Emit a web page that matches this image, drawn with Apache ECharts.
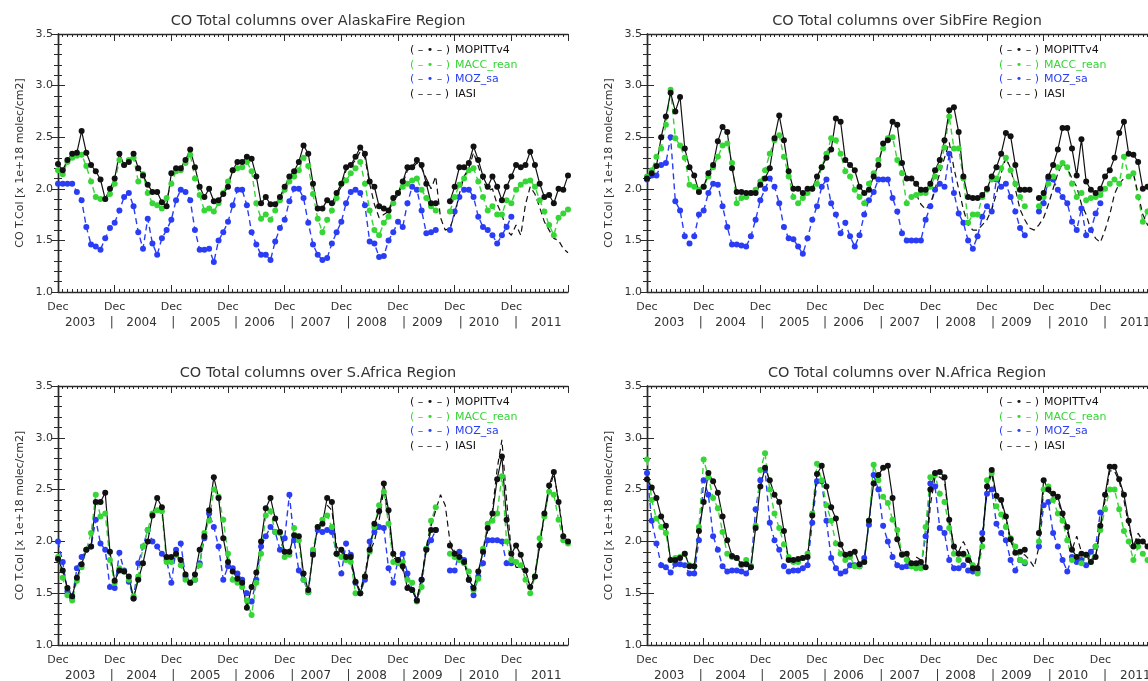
<!DOCTYPE html>
<html>
<head>
<meta charset="utf-8">
<script src="https://cdn.jsdelivr.net/npm/echarts@6/dist/echarts.min.js"></script>
<style>
  html, body { margin: 0; padding: 0; background: #ffffff; }
  #chart { width: 1148px; height: 681px; }
</style>
</head>
<body>
<div id="chart"></div>
<script>
// Monthly CO total columns (x 1e+18 molec/cm2), month index 0 = Dec 2003.
const monthCount = 108;               // Dec 2003 .. Dec 2012
const iasiStart = 57;                 // IASI record starts Sep 2008

// X-axis ticks / labels
const decTicks = [0, 12, 24, 36, 48, 60, 72, 84, 96];
const decTickMarks = [0, 12, 24, 36, 48, 60, 72, 84, 96, 108];
const yearLabelPos  = [4.7, 11.4, 17.7, 24.4, 31.2, 37.7, 42.7, 49.6, 54.6, 61.5, 66.4, 73.3, 78.2, 85.3, 90.2, 97.0, 103.4];
const yearLabelText = ['2003', '|', '2004', '|', '2005', '|', '2006', '|', '2007', '|', '2008', '|', '2009', '|', '2010', '|', '2011'];

const seriesNames = ['MOPITTv4', 'MACC_rean', 'MOZ_sa', 'IASI'];

// ---- AlaskaFire ----
const alaskaMopitt = [
  2.24,2.18,2.28,2.34,2.35,2.56,2.35,2.23,2.17,2.09,1.90,2.00,
  2.10,2.34,2.23,2.26,2.34,2.20,2.13,2.04,1.97,1.97,1.87,1.83,
  2.15,2.20,2.20,2.28,2.38,2.21,2.02,1.92,2.00,1.88,1.89,1.95,
  2.02,2.18,2.26,2.26,2.31,2.29,2.12,1.86,1.92,1.85,1.85,1.92,
  2.02,2.12,2.17,2.26,2.42,2.34,2.05,1.81,1.81,1.89,1.86,1.96,
  2.05,2.21,2.23,2.31,2.40,2.34,2.07,2.02,1.83,1.81,1.79,1.91,
  1.96,2.07,2.21,2.21,2.28,2.23,2.05,1.86,1.86,null,null,1.88,
  2.02,2.21,2.21,2.25,2.41,2.28,2.12,2.02,2.12,2.02,1.89,2.02,
  2.12,2.23,2.21,2.23,2.36,2.23,2.05,1.92,1.94,1.86,2.00,1.99,2.13];
const alaskaMacc = [
  2.18,2.14,2.26,2.30,2.32,2.33,2.22,2.07,1.92,1.90,1.90,1.95,
  2.05,2.28,2.23,2.28,2.30,2.07,2.14,1.96,1.86,1.84,1.81,1.91,
  2.05,2.17,2.18,2.25,2.33,2.10,1.94,1.79,1.81,1.78,1.86,1.96,
  2.07,2.18,2.20,2.21,2.26,2.17,1.86,1.71,1.75,1.70,1.79,1.89,
  1.99,2.07,2.12,2.18,2.30,2.22,1.95,1.71,1.58,1.70,1.79,1.91,
  2.05,2.08,2.15,2.20,2.26,2.05,1.79,1.60,1.55,1.67,1.73,1.86,
  1.96,2.02,2.05,2.08,2.10,1.99,1.91,1.83,1.79,null,null,1.78,
  1.92,2.04,2.10,2.18,2.20,2.07,1.92,1.79,1.83,1.75,1.75,1.89,
  1.86,1.99,2.04,2.07,2.08,2.02,1.89,1.78,1.65,1.55,1.72,1.76,1.80];
const alaskaMoz = [
  2.05,2.05,2.05,2.05,1.97,1.89,1.63,1.46,1.44,1.41,1.52,1.62,
  1.67,1.79,1.92,1.96,1.83,1.58,1.42,1.71,1.47,1.36,1.52,1.60,
  1.70,1.89,1.99,1.97,1.89,1.60,1.41,1.41,1.42,1.29,1.50,1.58,
  1.68,1.84,1.99,1.99,1.84,1.58,1.46,1.36,1.36,1.31,1.49,1.62,
  1.70,1.88,2.00,2.00,1.91,1.67,1.46,1.36,1.31,1.33,1.47,1.58,
  1.68,1.86,1.97,1.99,1.96,1.84,1.49,1.47,1.34,1.35,1.50,1.58,
  1.68,1.63,1.86,2.02,1.99,1.79,1.57,1.58,1.60,null,null,1.60,
  1.78,1.92,1.99,1.99,1.92,1.73,1.63,1.60,1.55,1.47,1.55,1.63,
  1.73];
const alaskaIasi = [
  1.88,1.85,1.94,2.02,2.18,2.22,2.28,2.36,2.30,2.05,1.85,1.72,1.75,1.78,1.88,1.94,
  2.05,2.18,2.20,2.25,2.20,2.10,2.00,2.12,1.72,1.60,1.62,1.75,1.95,2.12,2.20,2.35,
  2.22,2.08,1.98,2.00,1.85,1.75,1.60,1.55,1.65,1.55,1.85,2.02,1.95,1.82,1.68,1.60,
  1.52,1.50,1.42,1.38];

// ---- SibFire ----
const sibMopitt = [
  2.10,2.15,2.22,2.50,2.70,2.93,2.75,2.89,2.39,2.21,2.13,1.97,
  2.02,2.15,2.23,2.46,2.60,2.55,2.20,1.97,1.97,1.96,1.96,1.96,
  2.04,2.10,2.20,2.49,2.71,2.47,2.17,2.00,2.00,1.96,2.00,2.00,
  2.12,2.21,2.30,2.38,2.68,2.65,2.28,2.23,2.18,2.02,1.96,1.99,
  2.12,2.23,2.44,2.47,2.65,2.62,2.25,2.10,2.10,2.05,1.99,1.99,
  2.05,2.18,2.28,2.47,2.76,2.79,2.55,2.12,1.92,1.91,1.91,1.94,
  2.00,2.12,2.21,2.34,2.54,2.51,2.23,1.99,1.99,1.99,null,1.91,
  1.96,2.12,2.23,2.38,2.59,2.59,2.39,2.13,2.48,2.07,1.99,1.96,
  2.00,2.12,2.18,2.30,2.54,2.65,2.34,2.33,2.26,2.00,2.02,2.00,2.00];
const sibMacc = [
  2.12,2.18,2.31,2.39,2.62,2.96,2.49,2.42,2.30,2.04,2.02,1.99,
  2.02,2.12,2.21,2.31,2.42,2.44,2.25,1.86,1.91,1.92,1.96,1.99,
  2.07,2.18,2.34,2.47,2.52,2.31,2.12,1.92,1.86,1.91,1.96,2.00,
  2.05,2.21,2.34,2.49,2.47,2.34,2.17,2.12,1.99,1.92,1.86,2.05,
  2.15,2.28,2.39,2.49,2.50,2.28,2.15,1.86,1.92,1.94,1.96,1.96,
  2.02,2.12,2.21,2.40,2.70,2.39,2.39,2.10,1.67,1.75,1.75,1.92,
  1.99,2.09,2.10,2.20,2.30,2.18,2.05,1.92,1.83,null,null,1.83,
  1.92,2.05,2.12,2.21,2.25,2.21,2.05,1.92,1.96,1.89,1.91,1.92,
  1.94,2.00,2.05,2.09,2.05,2.31,2.12,2.15,1.92,1.68,1.78,1.80,1.82];
const sibMoz = [
  2.09,2.13,2.13,2.23,2.25,2.50,1.88,1.79,1.54,1.47,1.54,1.75,
  1.79,1.96,2.05,2.04,1.83,1.63,1.46,1.46,1.45,1.44,1.54,1.70,
  1.89,2.00,2.10,2.02,1.86,1.63,1.52,1.51,1.44,1.37,1.52,1.70,
  1.83,2.02,2.09,1.86,1.75,1.57,1.67,1.54,1.44,1.55,1.75,1.89,
  1.97,2.09,2.09,2.09,1.91,1.78,1.57,1.50,1.50,1.50,1.50,1.70,
  1.83,1.99,2.05,2.02,2.34,1.96,1.76,1.67,1.50,1.42,1.54,1.73,
  1.83,1.78,2.09,2.02,2.05,1.92,1.78,1.62,1.55,null,null,1.78,
  1.86,2.10,2.09,1.99,1.92,1.86,1.68,1.60,1.81,1.55,1.60,1.76,
  1.86];
const sibIasi = [
  1.95,1.85,1.80,1.85,2.00,2.15,2.30,2.45,2.20,2.00,1.80,1.65,1.60,1.60,1.65,1.70,
  1.80,1.95,2.15,2.30,2.20,2.00,1.80,1.70,1.62,1.60,1.65,1.72,1.85,2.00,2.15,2.25,
  2.20,2.10,2.02,1.85,1.75,1.60,1.52,1.48,1.60,1.75,1.95,2.05,2.10,2.10,2.15,1.95,
  1.75,1.65,1.60,1.58];

// ---- S.Africa ----
const safMopitt = [
  1.83,1.72,1.55,1.47,1.65,1.78,1.92,1.95,2.38,2.38,2.47,1.90,
  1.62,1.72,1.71,1.66,1.45,1.63,1.79,2.00,2.25,2.42,2.33,1.85,
  1.85,1.88,1.82,1.68,1.60,1.68,1.92,2.05,2.30,2.62,2.42,2.03,
  1.80,1.71,1.64,1.60,1.36,1.56,1.70,2.00,2.32,2.42,2.22,2.09,
  1.90,1.90,2.06,2.05,1.69,1.53,1.87,2.14,2.17,2.42,2.38,1.88,
  1.92,1.85,1.85,1.61,1.50,1.66,1.92,2.17,2.29,2.56,2.30,1.88,
  1.82,1.76,1.55,1.53,1.43,1.63,1.92,2.11,2.11,null,null,1.96,
  1.88,1.85,1.80,1.63,1.55,1.71,1.90,2.13,2.27,2.60,2.82,2.21,
  1.88,1.96,1.87,1.72,1.56,1.66,1.96,2.27,2.54,2.67,2.38,2.05,2.00];
const safMacc = [
  1.85,1.65,1.48,1.43,1.62,1.75,1.92,2.08,2.45,2.24,2.27,1.82,
  1.60,1.74,1.71,1.63,1.47,1.66,1.95,2.11,2.27,2.30,2.29,1.80,
  1.80,1.87,1.77,1.63,1.60,1.63,1.77,2.08,2.20,2.50,2.43,2.21,
  1.88,1.63,1.60,1.56,1.43,1.29,1.60,1.88,2.25,2.29,2.09,2.08,
  1.85,1.87,2.13,2.01,1.63,1.51,1.92,2.14,2.21,2.25,2.14,1.88,
  1.85,1.82,1.80,1.50,1.50,1.66,1.90,2.14,2.35,2.48,2.17,1.80,
  1.79,1.80,1.63,1.60,1.42,1.56,1.93,2.20,2.33,null,null,1.88,
  1.85,1.82,1.79,1.71,1.53,1.64,1.93,2.17,2.20,2.27,2.63,2.00,
  1.82,1.80,1.77,1.63,1.50,1.66,2.03,2.24,2.48,2.45,2.21,2.01,1.98];
const safMoz = [
  2.00,1.80,1.52,1.45,1.74,1.85,1.92,1.95,2.21,1.98,1.92,1.56,
  1.55,1.89,1.72,1.61,1.45,1.79,1.95,2.11,2.00,1.95,1.88,1.82,
  1.60,1.92,1.98,1.66,1.60,1.63,1.79,2.03,2.27,2.14,1.95,1.63,
  1.76,1.74,1.69,1.63,1.50,1.42,1.63,1.95,2.05,2.14,2.09,1.92,
  2.03,2.45,2.01,1.72,1.63,1.51,1.90,2.11,2.09,2.11,2.09,1.88,
  1.69,1.98,1.87,1.60,1.50,1.63,2.00,2.09,2.14,2.13,1.74,1.60,
  1.82,1.88,1.69,1.53,1.43,1.63,1.93,2.01,2.11,null,null,1.72,
  1.72,1.90,1.82,1.63,1.48,1.66,1.79,2.01,2.01,2.01,2.00,1.79,
  1.79];
const safIasi = [
  2.35,2.30,1.95,1.90,1.82,1.80,1.62,1.52,1.70,1.90,2.00,2.20,2.50,2.25,1.85,1.80,
  1.72,1.60,1.52,1.45,1.65,1.95,2.15,2.30,2.45,2.35,2.00,1.90,1.85,1.80,1.65,1.55,
  1.70,1.90,2.10,2.30,2.70,2.98,2.40,1.90,1.75,1.75,1.70,1.55,1.70,1.95,2.25,2.50,
  2.65,2.40,2.05,2.00];

// ---- N.Africa ----
const nafMopitt = [
  2.60,2.52,2.42,2.24,2.15,1.82,1.82,1.84,1.88,1.76,1.76,2.10,
  2.38,2.66,2.58,2.47,2.24,2.01,1.86,1.84,1.78,1.78,1.75,2.13,
  2.53,2.71,2.59,2.45,2.38,2.10,1.82,1.82,1.83,1.84,1.85,2.25,
  2.65,2.73,2.53,2.33,2.22,1.97,1.87,1.88,1.90,1.78,1.80,2.20,
  2.56,2.64,2.71,2.73,2.42,2.02,1.87,1.88,1.79,1.79,1.80,1.75,
  2.50,2.66,2.67,2.62,2.21,1.95,1.88,1.88,1.82,1.74,1.74,2.02,
  2.53,2.69,2.44,2.40,2.24,2.02,1.89,1.90,1.92,null,null,2.08,
  2.59,2.50,2.46,2.43,2.27,2.14,1.92,1.85,1.88,1.87,1.80,1.85,
  2.15,2.45,2.72,2.72,2.60,2.45,2.20,1.95,2.00,2.00,1.95,1.92,1.90];
const nafMacc = [
  2.79,2.40,2.22,2.14,2.08,1.82,1.84,1.85,1.88,1.77,1.76,2.14,
  2.79,2.62,2.42,2.32,2.09,1.88,1.85,1.84,1.77,1.82,1.76,2.15,
  2.69,2.85,2.50,2.27,2.13,1.97,1.85,1.80,1.80,1.84,1.88,2.27,
  2.75,2.59,2.35,2.20,1.98,1.88,1.82,1.85,1.76,1.76,1.80,2.20,
  2.74,2.59,2.43,2.37,2.21,2.11,1.88,1.82,1.76,1.74,1.74,2.14,
  2.62,2.64,2.46,2.38,2.13,1.88,1.82,1.87,1.85,1.77,1.69,1.95,
  2.59,2.66,2.34,2.26,2.14,2.03,1.95,1.82,1.80,null,null,2.00,
  2.50,2.53,2.40,2.27,2.20,2.01,1.82,1.85,1.79,1.87,1.80,1.95,
  2.11,2.31,2.50,2.50,2.31,2.10,2.00,1.82,1.95,1.88,1.82,1.85,1.85];
const nafMoz = [
  2.66,2.20,1.98,1.77,1.75,1.70,1.78,1.78,1.77,1.69,1.69,2.01,
  2.59,2.45,2.05,1.92,1.76,1.71,1.72,1.72,1.71,1.69,1.76,2.31,
  2.59,2.69,2.18,2.01,1.92,1.76,1.71,1.72,1.72,1.74,1.77,2.18,
  2.58,2.58,2.20,1.84,1.74,1.69,1.71,1.77,1.77,1.76,1.84,2.16,
  2.64,2.50,2.15,2.00,1.85,1.77,1.75,1.76,1.76,1.76,1.75,2.05,
  2.56,2.53,2.13,2.08,1.82,1.74,1.74,1.77,1.72,1.71,1.71,2.08,
  2.46,2.50,2.17,2.08,2.01,1.82,1.72,1.82,1.79,null,null,1.95,
  2.35,2.38,2.08,1.95,1.82,1.71,1.85,1.80,1.82,1.77,1.90,1.95,
  2.28];
const nafIasi = [
  1.85,1.82,1.80,2.35,2.62,2.62,2.58,2.20,1.95,1.90,2.00,1.90,1.76,1.76,2.00,2.50,
  2.66,2.42,2.38,2.22,2.00,1.90,1.88,1.87,1.82,1.75,1.95,2.52,2.48,2.42,2.40,2.25,
  2.10,1.92,2.05,1.90,1.85,1.82,1.85,2.12,2.40,2.68,2.68,2.58,2.40,2.15,1.95,2.08,
  2.00,1.95,1.92,1.90];

// Panel layout (plot frames in pixels)
const panels = [
  { title: 'CO Total columns over AlaskaFire Region', left: 58,  top: 34,  height: 258,
    data: [alaskaMopitt, alaskaMacc, alaskaMoz, alaskaIasi] },
  { title: 'CO Total columns over SibFire Region',    left: 647, top: 34,  height: 258,
    data: [sibMopitt, sibMacc, sibMoz, sibIasi] },
  { title: 'CO Total columns over S.Africa Region',   left: 58,  top: 386, height: 259,
    data: [safMopitt, safMacc, safMoz, safIasi] },
  { title: 'CO Total columns over N.Africa Region',   left: 647, top: 386, height: 259,
    data: [nafMopitt, nafMacc, nafMoz, nafIasi] }
];
const plotWidth = 510;

const FONT = 'DejaVu Sans';
const TEXT = '#333333';
const FRAME = '#2a2a2a';
const BLACK = '#111111';
const GREEN = '#36d636';
const BLUE = '#2a3df5';

const frameLine = { show: true, lineStyle: { color: FRAME, width: 1.4 } };

function nearestYearLabel(v) {
  let best = 0;
  for (let i = 1; i < yearLabelPos.length; i++) {
    if (Math.abs(yearLabelPos[i] - v) < Math.abs(yearLabelPos[best] - v)) best = i;
  }
  return yearLabelText[best];
}

const option = {
  animation: false,
  backgroundColor: '#ffffff',
  title: [], grid: [], xAxis: [], yAxis: [], legend: [], series: []
};

panels.forEach((p, k) => {
  const cx = p.left + plotWidth / 2;
  option.title.push({
    text: p.title, left: cx, top: p.top - 25, textAlign: 'center',
    textStyle: { fontFamily: FONT, fontSize: 14.5, fontWeight: 'normal', color: TEXT }
  });
  option.grid.push({
    left: p.left, top: p.top, width: plotWidth, height: p.height,
    containLabel: false, outerBoundsMode: 'none'
  });

  // bottom axis: month ticks, "Dec" labels
  option.xAxis.push({
    type: 'value', gridIndex: k, position: 'bottom', min: 0, max: monthCount, interval: 12,
    axisLine: frameLine,
    axisTick: { show: true, inside: true, length: 7, customValues: decTickMarks, lineStyle: { color: FRAME, width: 1 } },
    minorTick: { show: true, splitNumber: 12, length: 3, lineStyle: { color: FRAME, width: 1 } },
    splitLine: { show: false },
    axisLabel: { customValues: decTicks, formatter: () => 'Dec', margin: 10,
                 fontFamily: FONT, fontSize: 11, color: TEXT }
  });
  // bottom second row: year labels
  option.xAxis.push({
    type: 'value', gridIndex: k, position: 'bottom', min: 0, max: monthCount,
    axisLine: { show: false }, axisTick: { show: false }, splitLine: { show: false },
    axisLabel: { customValues: yearLabelPos, formatter: nearestYearLabel, margin: 25,
                 fontFamily: FONT, fontSize: 12, color: TEXT }
  });
  // top mirror axis
  option.xAxis.push({
    type: 'value', gridIndex: k, position: 'top', min: 0, max: monthCount, interval: 12,
    axisLine: frameLine,
    axisTick: { show: true, inside: true, length: 7, customValues: decTickMarks, lineStyle: { color: FRAME, width: 1 } },
    minorTick: { show: true, splitNumber: 12, length: 3, lineStyle: { color: FRAME, width: 1 } },
    splitLine: { show: false }, axisLabel: { show: false }
  });

  option.yAxis.push({
    type: 'value', gridIndex: k, position: 'left', min: 1.0, max: 3.5, interval: 0.5,
    name: 'CO T.Col [x 1e+18 molec/cm2]', nameLocation: 'middle', nameGap: 32, nameRotate: 90,
    nameTextStyle: { fontFamily: FONT, fontSize: 11, color: TEXT },
    axisLine: frameLine,
    axisTick: { show: true, inside: true, length: 7, lineStyle: { color: FRAME, width: 1 } },
    minorTick: { show: true, splitNumber: 5, length: 4, lineStyle: { color: FRAME, width: 1 } },
    splitLine: { show: false },
    axisLabel: { formatter: v => v.toFixed(1), margin: 5, fontFamily: FONT, fontSize: 11, color: TEXT }
  });
  option.yAxis.push({
    type: 'value', gridIndex: k, position: 'right', min: 1.0, max: 3.5, interval: 0.5,
    axisLine: frameLine,
    axisTick: { show: true, inside: true, length: 7, lineStyle: { color: FRAME, width: 1 } },
    minorTick: { show: true, splitNumber: 5, length: 4, lineStyle: { color: FRAME, width: 1 } },
    splitLine: { show: false }, axisLabel: { show: false }
  });

  option.legend.push({
    orient: 'vertical', left: p.left + 347, top: p.top + 9, padding: 0,
    icon: 'none', itemWidth: 0, itemHeight: 10, itemGap: 0,
    selectedMode: false,
    formatter: name => '{s|' + (name === 'IASI' ? '( – – – )' : '( – • – )') + '}' + name,
    textStyle: { fontFamily: FONT, fontSize: 11, lineHeight: 14.5,
                 rich: { s: { width: 45, fontFamily: FONT, fontSize: 11 } } },
    data: [
      { name: 'MOPITTv4', textStyle: { color: BLACK } },
      { name: 'MACC_rean', textStyle: { color: GREEN } },
      { name: 'MOZ_sa', textStyle: { color: BLUE } },
      { name: 'IASI', textStyle: { color: BLACK } }
    ]
  });

  const toPoints = (arr, start) => arr.map((v, i) => [start + i, v]);
  const xi = 3 * k, yi = 2 * k;
  const [mop, macc, moz, iasi] = p.data;

  option.series.push({
    name: 'MOZ_sa', type: 'line', xAxisIndex: xi, yAxisIndex: yi,
    data: toPoints(moz, 0), symbol: 'circle', symbolSize: 6, connectNulls: false,
    itemStyle: { color: BLUE }, lineStyle: { color: BLUE, width: 1.4, type: [6, 4] }
  });
  option.series.push({
    name: 'MACC_rean', type: 'line', xAxisIndex: xi, yAxisIndex: yi,
    data: toPoints(macc, 0), symbol: 'circle', symbolSize: 6, connectNulls: false,
    itemStyle: { color: GREEN }, lineStyle: { color: GREEN, width: 1.4, type: [6, 4] }
  });
  option.series.push({
    name: 'MOPITTv4', type: 'line', xAxisIndex: xi, yAxisIndex: yi,
    data: toPoints(mop, 0), symbol: 'circle', symbolSize: 6, connectNulls: false,
    itemStyle: { color: BLACK }, lineStyle: { color: BLACK, width: 1.2 }
  });
  option.series.push({
    name: 'IASI', type: 'line', xAxisIndex: xi, yAxisIndex: yi,
    data: toPoints(iasi, iasiStart), showSymbol: false, symbol: 'none', connectNulls: false,
    itemStyle: { color: BLACK }, lineStyle: { color: BLACK, width: 1.2, type: [6, 4] }
  });
});

const chart = echarts.init(document.getElementById('chart'), null, { renderer: 'canvas' });
chart.setOption(option);
</script>
</body>
</html>
